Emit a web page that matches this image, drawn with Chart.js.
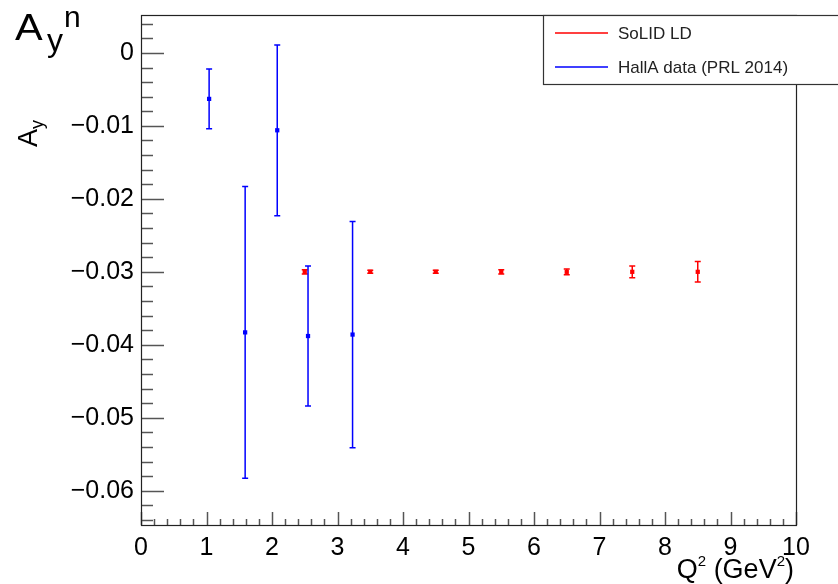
<!DOCTYPE html>
<html>
<head>
<meta charset="utf-8">
<script src="https://cdn.jsdelivr.net/npm/chart.js@4.4.1/dist/chart.umd.min.js"></script>
<style>
  body { margin: 0; background: #fff; }
  #wrap { position: relative; width: 838px; height: 584px; overflow: hidden; }
  #c { position: absolute; left: 0; top: 0; }
  .lbl { position: absolute; font-family: 'Liberation Sans', Arial, sans-serif; color: #000; line-height: 1; white-space: nowrap; }
</style>
</head>
<body>
<div id="wrap">
  <canvas id="c" width="838" height="584"></canvas>
  <!-- big A_y^n label top left -->
  <span class="lbl" style="left:15px;top:9px;font-size:37px;transform:scaleX(1.12);transform-origin:left top;">A</span>
  <span class="lbl" style="left:47px;top:24px;font-size:32px;">y</span>
  <span class="lbl" style="left:64px;top:2px;font-size:30px;">n</span>
  <!-- y axis title, rotated -->
  <div class="lbl" style="left:-2px;top:120px;width:60px;text-align:center;font-size:27px;transform:rotate(-90deg);">A<span style="font-size:18px;position:relative;top:6px;">y</span></div>
  <!-- x axis title -->
  <div class="lbl" style="right:44px;top:556px;font-size:27px;">Q<span style="font-size:15px;position:relative;top:-12px;">2</span> (GeV<span style="font-size:15px;position:relative;top:-12px;">2</span>)</div>
</div>
<script>
// SoLID LD projection
const solidQ2 = [2.5, 3.5, 4.5, 5.5, 6.5, 7.5, 8.5];
const solidAy = [-0.030, -0.030, -0.030, -0.030, -0.030, -0.030, -0.030];
const solidErr = [0.0003, 0.0002, 0.0002, 0.0003, 0.0004, 0.0008, 0.0014];

// Hall A data (PRL 2014)
const hallaQ2 = [1.04, 1.59, 2.08, 2.55, 3.23];
const hallaAy = [-0.0063, -0.0383, -0.0106, -0.0388, -0.0386];
const hallaErr = [0.0041, 0.0200, 0.0117, 0.0096, 0.0155];

// axis ticks
const xTicks = [0, 1, 2, 3, 4, 5, 6, 7, 8, 9, 10];
const xTickLabels = ['0', '1', '2', '3', '4', '5', '6', '7', '8', '9', '10'];
const yTicks = [0, -0.01, -0.02, -0.03, -0.04, -0.05, -0.06];
const yTickLabels = ['0', '\u22120.01', '\u22120.02', '\u22120.03', '\u22120.04', '\u22120.05', '\u22120.06'];

const xMin = 0, xMax = 10;
const yMin = -0.0647, yMax = 0.0052;

const FONT = "'Liberation Sans', Arial, sans-serif";

function toPoints(xs, ys, es) {
  return xs.map((x, i) => ({ x: x, y: ys[i], err: es[i] }));
}

// error bars, drawn through the scales
const errorBars = {
  id: 'errorBars',
  beforeDatasetsDraw(chart) {
    const ctx = chart.ctx;
    const xs = chart.scales.x, ys = chart.scales.y;
    ctx.save();
    chart.data.datasets.forEach(ds => {
      ctx.strokeStyle = ds.backgroundColor;
      ctx.lineWidth = 1.5;
      ds.data.forEach(p => {
        const px = xs.getPixelForValue(p.x);
        const top = ys.getPixelForValue(p.y + p.err);
        const bot = ys.getPixelForValue(p.y - p.err);
        ctx.beginPath();
        ctx.moveTo(px, top); ctx.lineTo(px, bot);
        ctx.moveTo(px - 3, top); ctx.lineTo(px + 3, top);
        ctx.moveTo(px - 3, bot); ctx.lineTo(px + 3, bot);
        ctx.stroke();
      });
    });
    ctx.restore();
  }
};

// ROOT-like frame with inward ticks, plus legend box
const frameAndLegend = {
  id: 'frameAndLegend',
  afterDraw(chart) {
    const ctx = chart.ctx;
    const a = chart.chartArea;
    const xs = chart.scales.x, ys = chart.scales.y;
    ctx.save();
    ctx.strokeStyle = '#555';
    ctx.lineWidth = 1.5;
    // y ticks
    for (let k = 0; k <= 40; k++) {
      const v = 0.004 - k * 0.002;
      if (v < yMin || v > yMax) continue;
      const py = Math.round(ys.getPixelForValue(v)) + 0.5;
      const major = Math.abs(v / 0.01 - Math.round(v / 0.01)) < 1e-6;
      ctx.beginPath();
      ctx.moveTo(a.left, py); ctx.lineTo(a.left + (major ? 23 : 12), py);
      ctx.stroke();
    }
    // x ticks
    for (let k = 0; k <= 50; k++) {
      const v = k * 0.2;
      const px = Math.round(xs.getPixelForValue(v)) + 0.5;
      const major = k % 5 === 0;
      ctx.beginPath();
      ctx.moveTo(px, a.bottom); ctx.lineTo(px, a.bottom - (major ? 13 : 6));
      ctx.stroke();
    }
    // frame
    ctx.strokeStyle = '#222';
    ctx.lineWidth = 1.2;
    ctx.strokeRect(Math.round(a.left) + 0.5, Math.round(a.top) + 0.5, Math.round(a.right - a.left), Math.round(a.bottom - a.top));

    // legend
    const lx = 543, ly = Math.round(a.top), lh = 69;
    ctx.fillStyle = '#fff';
    ctx.fillRect(lx, ly, 310, lh);
    ctx.strokeStyle = '#333';
    ctx.lineWidth = 1.2;
    ctx.strokeRect(lx + 0.5, ly + 0.5, 310, lh);
    ctx.font = '17px ' + FONT;
    ctx.textBaseline = 'middle';
    chart.data.datasets.forEach((ds, i) => {
      const yy = ly + 18 + i * 34;
      ctx.strokeStyle = ds.backgroundColor;
      ctx.lineWidth = 1.5;
      ctx.beginPath();
      ctx.moveTo(555, yy); ctx.lineTo(608, yy);
      ctx.stroke();
      ctx.fillStyle = '#222';
      ctx.fillText(ds.label, 618, yy + 1);
    });
    ctx.restore();
  }
};

const chart = new Chart(document.getElementById('c').getContext('2d'), {
  type: 'scatter',
  data: {
    datasets: [
      {
        label: 'SoLID LD',
        data: toPoints(solidQ2, solidAy, solidErr),
        borderColor: '#ff0000',
        backgroundColor: '#ff0000',
        pointStyle: 'rect',
        pointRadius: 3,
        pointBorderWidth: 0
      },
      {
        label: 'HallA data (PRL 2014)',
        data: toPoints(hallaQ2, hallaAy, hallaErr),
        borderColor: '#0000ff',
        backgroundColor: '#0000ff',
        pointStyle: 'rect',
        pointRadius: 3,
        pointBorderWidth: 0
      }
    ]
  },
  options: {
    responsive: false,
    animation: false,
    layout: { padding: { left: 0, top: 15, right: 42, bottom: 0 } },
    plugins: { legend: { display: false }, tooltip: { enabled: false } },
    scales: {
      x: {
        type: 'linear', min: xMin, max: xMax,
        grid: { display: false, drawTicks: false },
        border: { display: false },
        afterBuildTicks(s) { s.ticks = xTicks.map(v => ({ value: v })); },
        afterFit(s) { s.height = 59; s.paddingLeft = 0; s.paddingRight = 0; },
        ticks: {
          autoSkip: false, maxRotation: 0, padding: 8, color: '#000',
          font: { family: FONT, size: 25 },
          callback: (v) => xTickLabels[xTicks.indexOf(v)]
        }
      },
      y: {
        type: 'linear', min: yMin, max: yMax,
        grid: { display: false, drawTicks: false },
        border: { display: false },
        afterBuildTicks(s) { s.ticks = yTicks.map(v => ({ value: v })); },
        afterFit(s) { s.width = 141; s.paddingTop = 0; s.paddingBottom = 0; },
        ticks: {
          autoSkip: false, padding: 7, color: '#000',
          font: { family: FONT, size: 25 },
          callback: (v) => yTickLabels[yTicks.indexOf(v)]
        }
      }
    }
  },
  plugins: [errorBars, frameAndLegend]
});
</script>
</body>
</html>
